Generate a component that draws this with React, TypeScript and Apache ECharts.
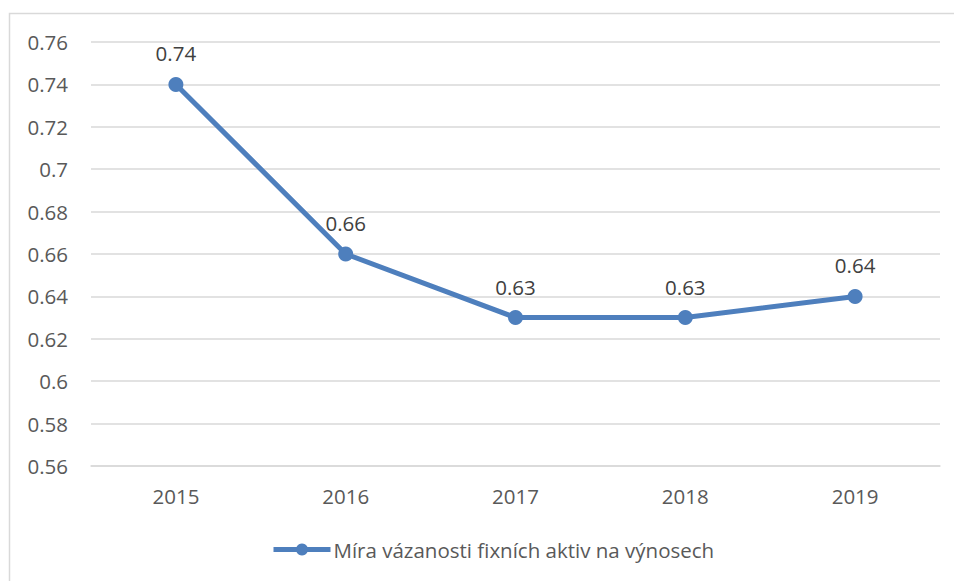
import React, { useEffect, useRef } from "react";
import * as echarts from "echarts";

const categories = ["2015", "2016", "2017", "2018", "2019"];
const values = [0.74, 0.66, 0.63, 0.63, 0.64];
const seriesName = "Míra vázanosti fixních aktiv na výnosech";
const yMin = 0.56;
const yMax = 0.76;
const yStep = 0.02;

export default function App() {
  const ref = useRef<HTMLDivElement>(null);
  useEffect(() => {
    const chart = echarts.init(ref.current!, null, { renderer: "svg" });
    const font = "'Open Sans', sans-serif";
    chart.setOption({
      animation: false,
      backgroundColor: "#ffffff",
      graphic: [
        {
          type: "rect",
          shape: { x: 9.5, y: 13.5, width: 960, height: 600 },
          style: { fill: "none", stroke: "#d9d9d9", lineWidth: 1.5 },
          silent: true,
        },
      ],
      grid: { left: 91, right: 14, top: 42, bottom: 115, containLabel: false },
      legend: {
        bottom: 16,
        left: 266,
        itemWidth: 57,
        itemHeight: 15,
        itemGap: 4,
        lineStyle: { width: 5 },
        textStyle: { fontFamily: font, fontSize: 20.5, color: "#595959", padding: [0, 0, 0, -2] },
        data: [seriesName],
      },
      xAxis: {
        type: "category",
        data: categories,
        boundaryGap: true,
        axisLine: { show: true, lineStyle: { color: "#d9d9d9", width: 1.5 } },
        axisTick: { show: false },
        axisLabel: { fontFamily: font, fontSize: 20.5, color: "#595959", margin: 19 },
      },
      yAxis: {
        type: "value",
        min: yMin,
        max: yMax,
        interval: yStep,
        axisLine: { show: false },
        axisTick: { show: false },
        splitLine: { lineStyle: { color: "#d9d9d9", width: 1.5 } },
        axisLabel: {
          fontFamily: font,
          fontSize: 20.5,
          color: "#595959",
          margin: 23,
          formatter: (v: number) => String(parseFloat(v.toFixed(2))),
        },
      },
      series: [
        {
          name: seriesName,
          type: "line",
          data: values,
          symbol: "circle",
          symbolSize: 15,
          lineStyle: { color: "#4e7fbd", width: 5 },
          itemStyle: { color: "#4e7fbd" },
          label: {
            show: true,
            position: "top",
            distance: 13,
            fontFamily: font,
            fontSize: 20.5,
            color: "#404040",
            formatter: (p: any) => String(p.value),
          },
        },
      ],
    });
    return () => chart.dispose();
  }, []);
  return (
    <div
      ref={ref}
      style={{ position: "absolute", left: 0, top: 0, width: 954, height: 581 }}
    />
  );
}
